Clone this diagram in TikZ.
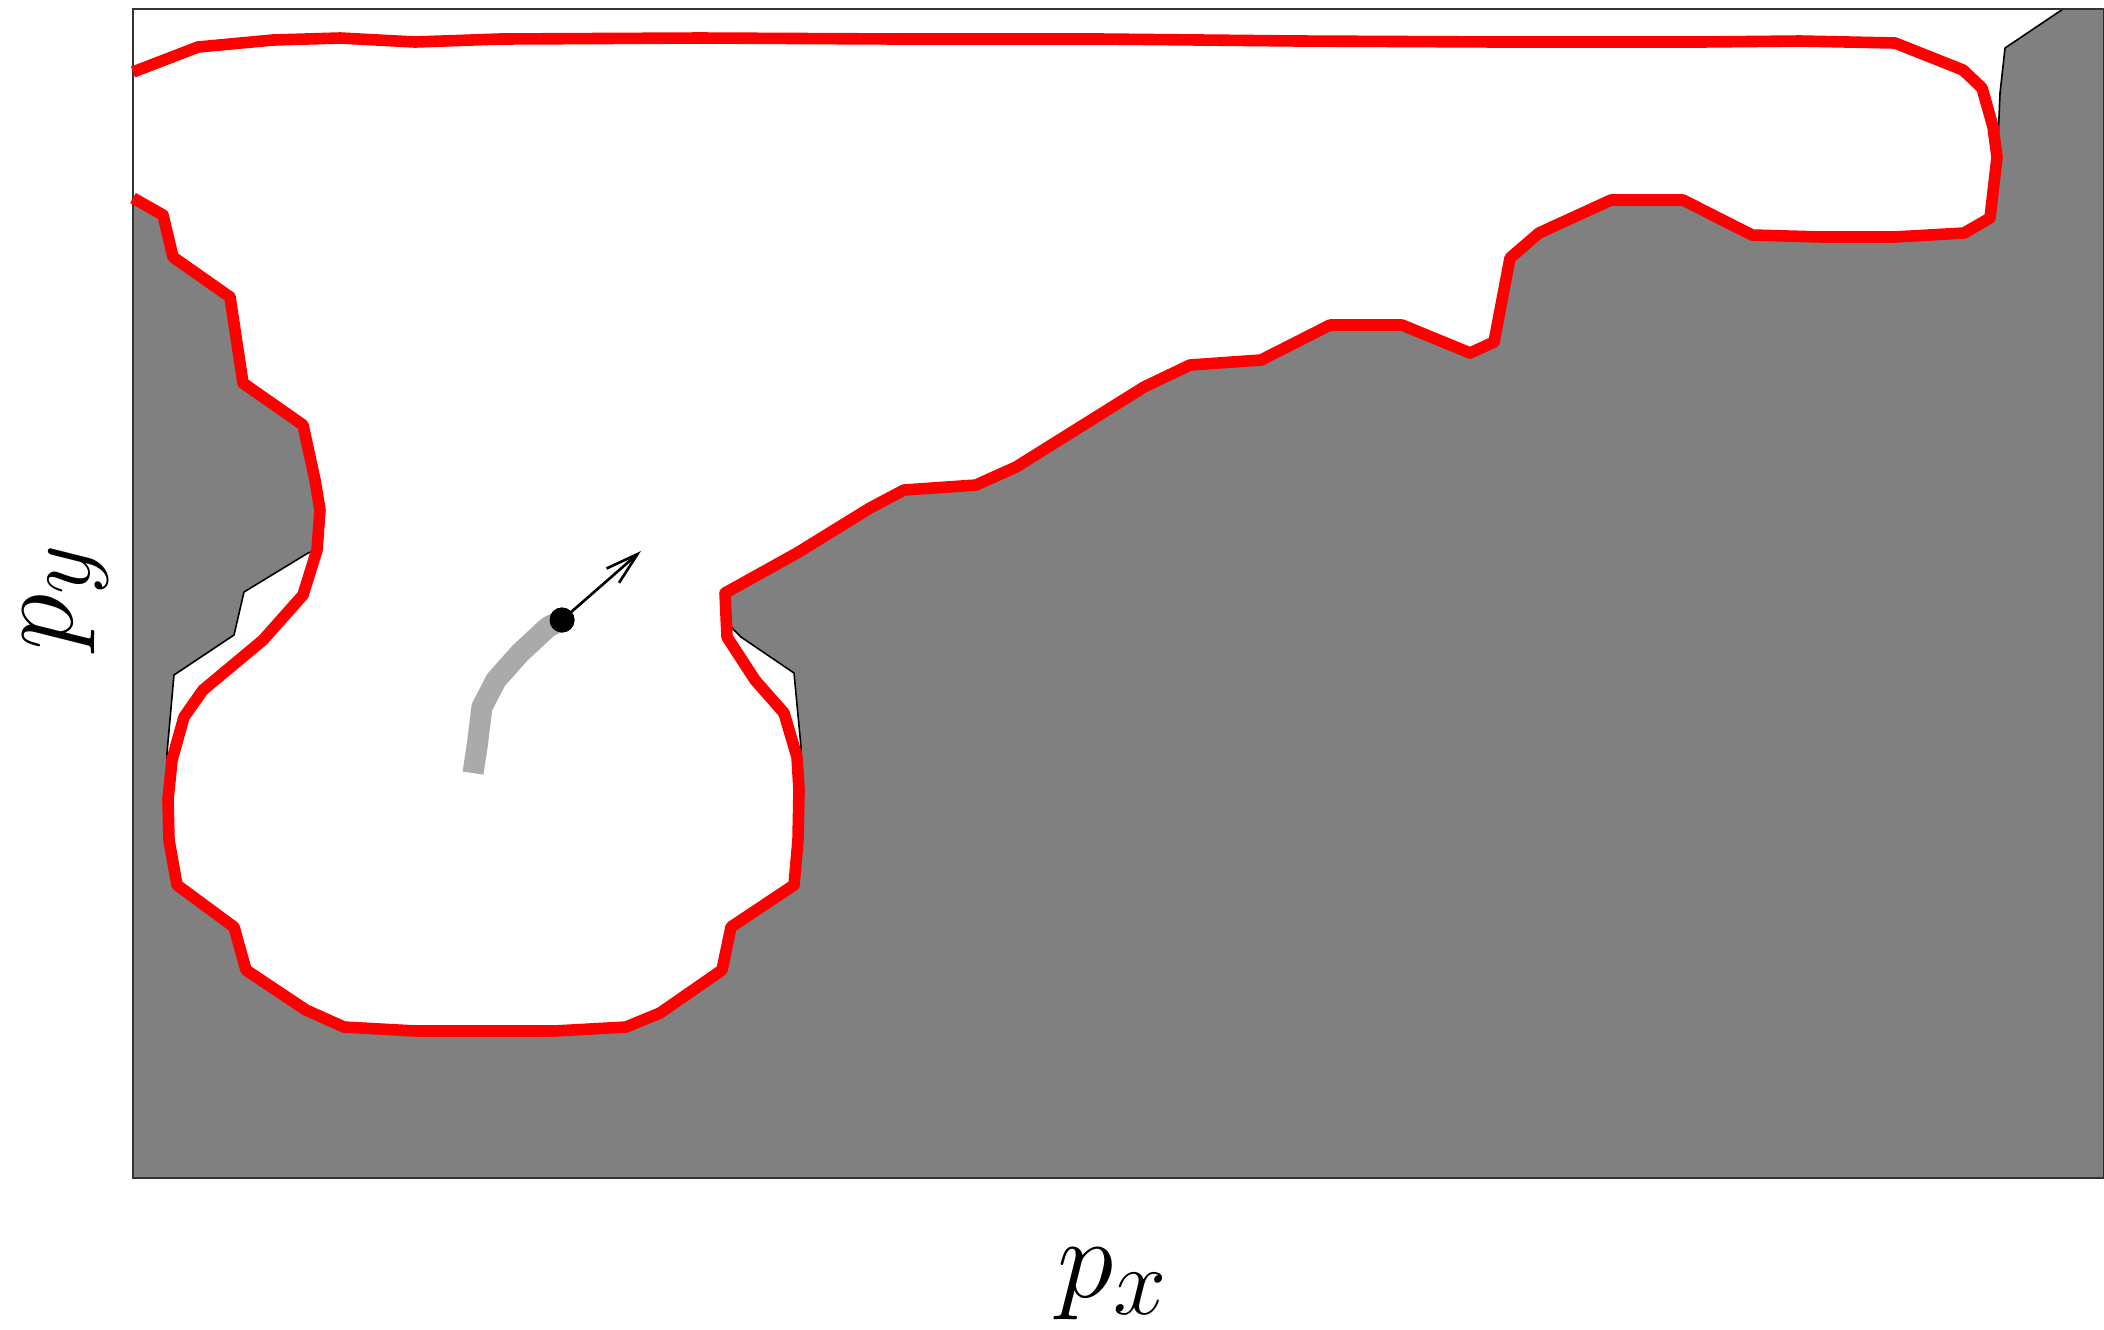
\documentclass[tikz,border=0pt]{standalone}
\usetikzlibrary{arrows.meta}
\definecolor{obst}{HTML}{808080}
\definecolor{trail}{HTML}{AAAAAA}
\tikzset{
  obstacle/.style={fill=obst, draw=black, line width=0.45pt, line join=miter},
  redpath/.style={draw=red, line width=3.3pt, line join=round},
  trailpath/.style={draw=trail, line width=6pt, line cap=butt, line join=round},
  framebox/.style={draw=black!80, line width=0.6pt},
  velarrow/.style={draw=black, line width=0.75pt, -{Straight Barb[length=9.3pt,width=5.4pt]}},
  axislabel/.style={inner sep=0pt, font=\Huge, scale=1.31, transform shape}
}
\begin{document}
\begin{tikzpicture}[x=0.01cm,y=-0.01cm]
\useasboundingbox (0,0) rectangle (2104,1329);
% obstacle region
\path[obstacle] (133,198) -- (163,215) -- (173,257) -- (230,297) -- (243,383) -- (303,425)
  -- (315,480) -- (320,510) -- (317,550) -- (308,553) -- (244,592) -- (234,635)
  -- (174,675) -- (167,753) -- (168,800) -- (169,840) -- (177,885) -- (234,927)
  -- (246,970) -- (306,1010) -- (344,1027) -- (416,1031) -- (554,1031) -- (626,1027)
  -- (660,1013) -- (722,970) -- (731,927) -- (794,885) -- (798,840) -- (800,790)
  -- (801,747) -- (794,673) -- (741,637) -- (731,627) -- (727,600) -- (725,593)
  -- (797,553) -- (870,508) -- (904,490) -- (976,485) -- (1016,467) -- (1144,387)
  -- (1190,365) -- (1261,360) -- (1330,325) -- (1402,325) -- (1470,353) -- (1494,342)
  -- (1510,258) -- (1539,233) -- (1611,200) -- (1683,200) -- (1752,235) -- (1822,237)
  -- (1894,237) -- (1964,233) -- (1990,218) -- (1997,175) -- (1998,140) -- (2000,93)
  -- (2005,48) -- (2063,9) -- (2104,9) -- (2104,1178) -- (133,1178) -- cycle;
% frame
\draw[framebox] (2104,9) -- (133,9) -- (133,1178) -- (2104,1178);
% red boundary
\draw[redpath] (133,198) -- (163,215) -- (173,257) -- (230,297) -- (243,383) -- (303,425)
  -- (315,480) -- (320,510) -- (317,550) -- (303,595) -- (263,640) -- (203,690)
  -- (184,717) -- (172,760) -- (168,800) -- (169,840) -- (177,885) -- (234,927)
  -- (246,970) -- (306,1010) -- (344,1027) -- (416,1031) -- (554,1031) -- (626,1027)
  -- (660,1013) -- (722,970) -- (731,927) -- (794,885) -- (798,840) -- (799,790)
  -- (797,757) -- (784,713) -- (755,680) -- (727,637) -- (725,593)
  -- (797,553) -- (870,508) -- (904,490) -- (976,485) -- (1016,467) -- (1144,387)
  -- (1190,365) -- (1261,360) -- (1330,325) -- (1402,325) -- (1470,353) -- (1494,342)
  -- (1510,258) -- (1539,233) -- (1611,200) -- (1683,200) -- (1752,235) -- (1822,237)
  -- (1894,237) -- (1964,233) -- (1990,218) -- (1997,157) -- (1993,127) -- (1982,88)
  -- (1963,70) -- (1895,43) -- (1800,41) -- (1700,42) -- (1500,42) -- (1300,41)
  -- (1100,39) -- (900,39) -- (700,38) -- (500,39) -- (415,42) -- (340,38)
  -- (273,40) -- (198,47) -- (133,72);
% trail
\coordinate (tstart) at (473,773);
\node[circle, fill=black, inner sep=0pt, minimum size=0.25cm] (robot) at (562,620) {};
\draw[trailpath] (tstart) -- (477,747) -- (482,707) -- (496,680) -- (520,653) -- (548,627) -- (robot.center);
\node[circle, fill=black, inner sep=0pt, minimum size=0.25cm] (robotdot) at (562,620) {};
\coordinate (vtip) at (641,551);
\draw[velarrow] (robotdot.center) -- (vtip);
% axis labels
\node[axislabel, anchor=base] (lx) at (1113,1297) {$p_x$};
\node[axislabel, anchor=base, rotate=90] (ly) at (72,597) {$p_y$};
\end{tikzpicture}
\end{document}
